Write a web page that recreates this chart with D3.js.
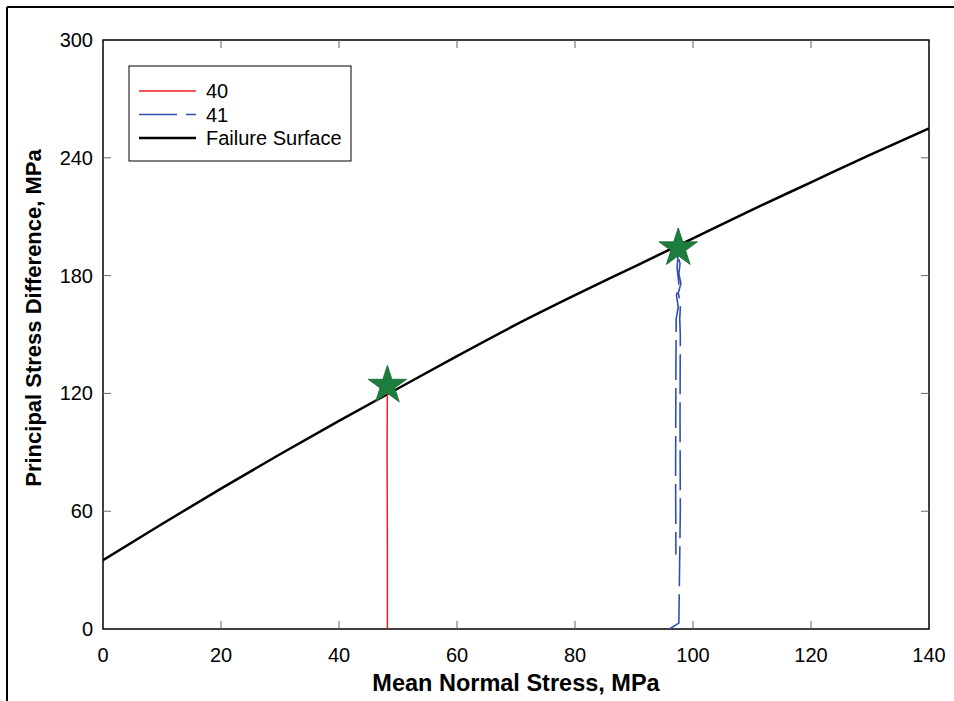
<!DOCTYPE html>
<html><head><meta charset="utf-8">
<script src="https://cdn.jsdelivr.net/npm/d3@7"></script>
<style>body{margin:0;background:#fff;} text{font-family:"Liberation Sans",Arial,sans-serif;}</style>
</head><body>
<svg id="c" width="954" height="701"></svg>
<script>
const xTicks = [0,20,40,60,80,100,120,140];
const yTicks = [0,60,120,180,240,300];
const failureX = [0,10,20,30,40,50,60,70,80,90,100,110,120,130,140];
const failureY = [35,53.5,71.5,89,106,122.5,139,155,170,184.5,199,213.5,227.5,241.5,255];
const s40X = [48.2,48.2,48.15,48.2];
const s40Y = [0,40,90,123];
const s41X = [96.0,97.6,97.85,97.8,97.85,97.75,97.9,97.5,97.95,97.6,97.8,97.5,97.6,97.5,97.45,97.3,97.6,97.2,97.5,97.15,97.1,97.05,97.1];
const s41Y = [0,3,60,110,150,158,166,171,176,181,186,190,193,194,190,184,176,170,164,158,130,80,38];
const starsX = [48.2,97.5];
const starsY = [124,194];
const legendLabels = ["40","41","Failure Surface"];

const svg = d3.select("#c");
const L=103,R=929,T=40,B=629;
const x = d3.scaleLinear().domain([0,140]).range([L,R]);
const y = d3.scaleLinear().domain([0,300]).range([B,T]);

svg.append("line").attr("x1",7).attr("x2",954).attr("y1",7).attr("y2",7).attr("stroke","#000").attr("stroke-width",2);
svg.append("line").attr("x1",7).attr("x2",7).attr("y1",7).attr("y2",701).attr("stroke","#000").attr("stroke-width",2);

svg.append("rect").attr("x",L).attr("y",T).attr("width",R-L).attr("height",B-T).attr("fill","none").attr("stroke","#000").attr("stroke-width",1.5);

const tk = 8;
const g = svg.append("g");
xTicks.slice(1,-1).forEach(v=>{
  g.append("line").attr("x1",x(v)).attr("x2",x(v)).attr("y1",B).attr("y2",B-tk).attr("stroke","#666");
  g.append("line").attr("x1",x(v)).attr("x2",x(v)).attr("y1",T).attr("y2",T+tk).attr("stroke","#666");
});
yTicks.slice(1,-1).forEach(v=>{
  g.append("line").attr("x1",L).attr("x2",L+tk).attr("y1",y(v)).attr("y2",y(v)).attr("stroke","#666");
  g.append("line").attr("x1",R).attr("x2",R-tk).attr("y1",y(v)).attr("y2",y(v)).attr("stroke","#666");
});
xTicks.forEach(v=>{
  g.append("text").attr("x",x(v)).attr("y",662).attr("text-anchor","middle").attr("font-size",20).text(v);
});
yTicks.forEach(v=>{
  g.append("text").attr("x",93).attr("y",y(v)+7).attr("text-anchor","end").attr("font-size",20).text(v);
});
svg.append("text").attr("x",(L+R)/2).attr("y",691).attr("text-anchor","middle").attr("font-size",23.5).attr("font-weight","bold").text("Mean Normal Stress, MPa");
svg.append("text").attr("transform","translate(41,318) rotate(-90)").attr("text-anchor","middle").attr("font-size",22).attr("font-weight","bold").text("Principal Stress Difference, MPa");

svg.append("defs").append("clipPath").attr("id","pc").append("rect").attr("x",L).attr("y",T).attr("width",R-L).attr("height",B-T);
const pg = svg.append("g").attr("clip-path","url(#pc)");
const smooth = d3.line().x(d=>x(d[0])).y(d=>y(d[1])).curve(d3.curveMonotoneX);
const line2 = d3.line().x(d=>x(d[0])).y(d=>y(d[1]));
pg.append("path").datum(failureX.map((v,i)=>[v,failureY[i]])).attr("d",smooth).attr("fill","none").attr("stroke","#000").attr("stroke-width",2.5);
pg.append("path").datum(s40X.map((v,i)=>[v,s40Y[i]])).attr("d",line2).attr("fill","none").attr("stroke","#f21c1c").attr("stroke-width",1.5);
pg.append("path").datum(s41X.map((v,i)=>[v,s41Y[i]])).attr("d",line2).attr("fill","none").attr("stroke","#2f4fb5").attr("stroke-width",1.6).attr("stroke-dasharray","40,8");

const star = d3.symbol().type(d3.symbolStar).size(460);
starsX.forEach((v,i)=>{
  svg.append("path").attr("d",star()).attr("transform",`translate(${x(v)},${y(starsY[i])})`).attr("fill","#1c7d3c").attr("stroke","#13672f").attr("stroke-width",0.8);
});

const lg = svg.append("g");
lg.append("rect").attr("x",129).attr("y",66).attr("width",222).attr("height",95).attr("fill","#fff").attr("stroke","#000").attr("stroke-width",1);
const lcol = ["#f21c1c","#2f4fb5","#000"];
const lw = [1.5,1.6,2.5];
const ld = [null,"38,9",null];
legendLabels.forEach((t,i)=>{
  const yy = 91 + i*23.5;
  const ln = lg.append("line").attr("x1",139).attr("x2",196).attr("y1",yy).attr("y2",yy).attr("stroke",lcol[i]).attr("stroke-width",lw[i]);
  if(ld[i]) ln.attr("stroke-dasharray",ld[i]);
  lg.append("text").attr("x",206).attr("y",yy+7).attr("font-size",20).text(t);
});
</script>
</body></html>
